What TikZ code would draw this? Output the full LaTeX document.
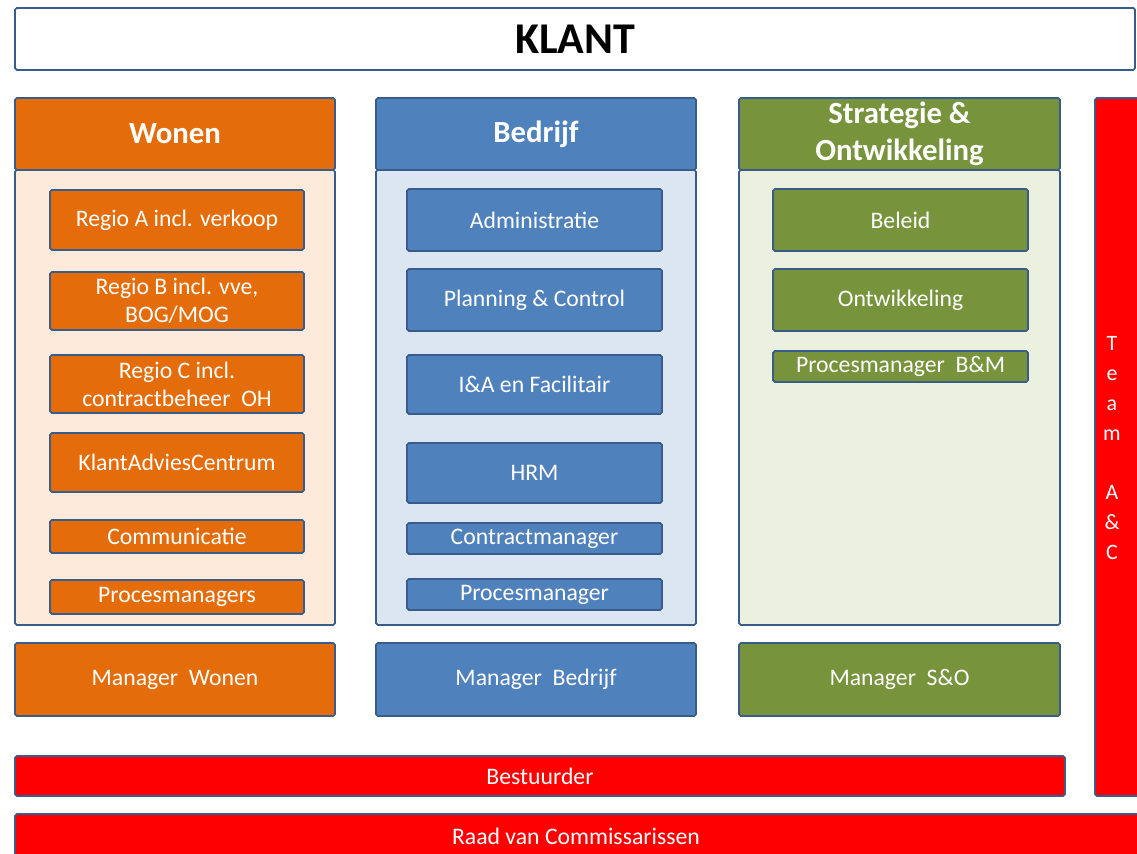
\documentclass[tikz,border=0pt]{standalone}
\usepackage{fontspec}
\setmainfont{Carlito}

\definecolor{rand}{HTML}{385D8A}
\definecolor{wonen}{HTML}{E46C0A}
\definecolor{wonenlicht}{HTML}{FDEADA}
\definecolor{bedrijf}{HTML}{4F81BD}
\definecolor{bedrijflicht}{HTML}{DCE6F2}
\definecolor{strat}{HTML}{77933C}
\definecolor{stratlicht}{HTML}{EBF1DE}
\definecolor{rood}{HTML}{FF0000}

\tikzset{
  vak/.style={draw=rand, line width=1pt, rounded corners=1pt, inner sep=0pt, align=center},
  maat/.style 2 args={minimum width=#1*0.02cm, minimum height=#2*0.02cm},
  kop/.style={vak, text=white, font=\fontsize{17.5}{21}\selectfont\bfseries},
  blok/.style={vak, text=white, font=\fontsize{13.5}{16}\selectfont},
}

\begin{document}
\begin{tikzpicture}[x=0.02cm, y=-0.02cm]
    \useasboundingbox (0,0) rectangle (1137,854);
    \clip (0,0) rectangle (1137,854);

    % Klant
    \node[vak, fill=white, maat={1120}{62}, font=\fontsize{25}{30}\selectfont\bfseries] (klant) at (575,39) {KLANT};

    % Wonen
    \node[vak, fill=wonenlicht, maat={320}{455}] (wonenbody) at (175,397.5) {};
    \node[kop, fill=wonen, maat={320}{72}] (wonenkop) at (175,134) {Wonen};
    \foreach \naam/\y/\h/\tekst in {
        regioA/220/60/{Regio A incl. verkoop},
        regioB/301/58/{Regio B incl. vve,\\BOG/MOG},
        regioC/384/58/{Regio C incl.\\contractbeheer~ OH},
        kac/462.5/59/{KlantAdviesCentrum},
        comm/536.5/33/{Communicatie},
        pmw/597/34/{Procesmanagers}}
        \node[blok, fill=wonen, maat={254}{\h}] (\naam) at (177,\y) {\tekst};
    \node[blok, fill=wonen, maat={320}{73}] (manwonen) at (175,679.5) {Manager~ Wonen};

    % Bedrijf
    \node[vak, fill=bedrijflicht, maat={320}{455}] (bedrijfbody) at (536,397.5) {};
    \node[kop, fill=bedrijf, maat={320}{72}] (bedrijfkop) at (536,134) {Bedrijf};
    \foreach \naam/\y/\h/\tekst in {
        admin/220/62/{Administratie},
        pc/300/62/{Planning \& Control},
        ia/384.5/59/{I\&A en Facilitair},
        hrm/473/60/{HRM},
        cm/538.5/31/{Contractmanager},
        pmb/594.5/31/{Procesmanager}}
        \node[blok, fill=bedrijf, maat={255}{\h}] (\naam) at (534.5,\y) {\tekst};
    \node[blok, fill=bedrijf, maat={320}{73}] (manbedrijf) at (536,679.5) {Manager~ Bedrijf};

    % Strategie & Ontwikkeling
    \node[vak, fill=stratlicht, maat={321}{455}] (stratbody) at (899.5,397.5) {};
    \node[kop, fill=strat, maat={321}{72}] (stratkop) at (899.5,134) {Strategie \&\\Ontwikkeling};
    \foreach \naam/\y/\h/\tekst in {
        beleid/220/62/{Beleid},
        ontw/300/62/{Ontwikkeling},
        pmbm/366.5/31/{Procesmanager~ B\&M}}
        \node[blok, fill=strat, maat={255}{\h}] (\naam) at (900.5,\y) {\tekst};
    \node[blok, fill=strat, maat={321}{73}] (manstrat) at (899.5,679.5) {Manager~ S\&O};

    % Team A&C, bestuurder en RvC
    \node[vak, fill=rood, maat={50}{698}] (teamac) at (1120,447) {};
    \node[text=white, inner sep=0pt, align=center, font=\fontsize{12.5}{17}\selectfont] (teamtekst) at (1112,448)
        {T\\e\\a\\m\\ \\A\\\&\\C};
    \node[blok, fill=rood, maat={1050}{40}] (bestuurder) at (540,776) {Bestuurder};
    \node[vak, fill=rood, maat={1130}{56}] (rvc) at (580,842) {};
    \node[text=white, inner sep=0pt, font=\fontsize{13.5}{16}\selectfont] (rvctekst) at (576,836) {Raad van Commissarissen};
\end{tikzpicture}
\end{document}
